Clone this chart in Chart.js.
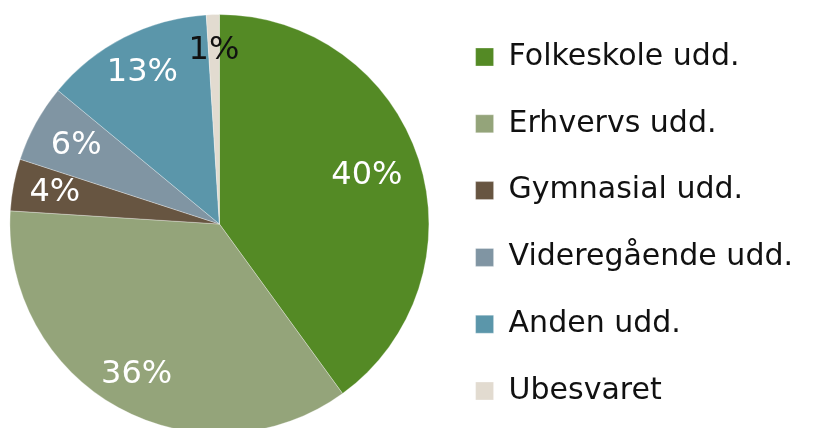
<!DOCTYPE html>
<html>
<head>
<meta charset="utf-8">
<script src="https://cdn.jsdelivr.net/npm/chart.js@4.4.1/dist/chart.umd.min.js"></script>
<style>
    html, body { margin: 0; padding: 0; background: #fff; overflow: hidden; }
    #wrap { position: absolute; left: 0; top: 0; width: 818px; height: 448px; }
</style>
</head>
<body>
<div id="wrap"><canvas id="graphic"></canvas></div>
<script>
const categories = ["Folkeskole udd.", "Erhvervs udd.", "Gymnasial udd.", "Videregående udd.", "Anden udd.", "Ubesvaret"]
const shares = [40, 36, 4, 6, 13, 1]
const percentLabels = ["40%", "36%", "4%", "6%", "13%", "1%"]

const sliceColors = ["#548a25", "#94a47a", "#675541", "#8095a3", "#5b96aa", "#e2dbd0"]
const labelColors = ["#fff", "#fff", "#fff", "#fff", "#fff", "#111"]
// how far out along the radius each label sits
const labelDist = [0.74, 0.82, 0.8, 0.78, 0.81, 0.83]

const pieLabels = {
    id: "pieLabels",
    afterDatasetsDraw(chart) {
        const ctx = chart.ctx
        const meta = chart.getDatasetMeta(0)
        ctx.save()
        ctx.font = "32px 'DejaVu Sans'"
        ctx.textAlign = "center"
        ctx.textBaseline = "middle"
        meta.data.forEach((arc, i) => {
            const p = arc.getProps(["x", "y", "startAngle", "endAngle", "outerRadius"], true)
            const mid = (p.startAngle + p.endAngle) / 2
            const r = p.outerRadius * labelDist[i]
            ctx.fillStyle = labelColors[i]
            ctx.fillText(percentLabels[i], p.x + Math.cos(mid) * r, p.y + Math.sin(mid) * r)
        })
        ctx.restore()
    },
}

const chartID = document.getElementById("graphic").getContext("2d")
let graphic = new Chart(chartID, {
    type: "pie",
    data: {
        labels: categories,
        datasets: [
            {
                data: shares,
                backgroundColor: sliceColors,
                borderColor: "rgba(255,255,255,0.6)",
                borderWidth: 0.5,
                radius: 209.5,
            },
        ],
    },
    options: {
        responsive: true,
        maintainAspectRatio: false,
        animation: false,
        layout: {
            padding: { left: 0, right: 15, top: 0, bottom: 0 },
        },
        plugins: {
            tooltip: { enabled: false },
            legend: {
                position: "right",
                labels: {
                    boxWidth: 18,
                    boxHeight: 18,
                    padding: 36.8,
                    color: "#111",
                    font: { family: "'DejaVu Sans'", size: 30 },
                },
            },
        },
    },
    plugins: [pieLabels],
})
</script>
</body>
</html>
